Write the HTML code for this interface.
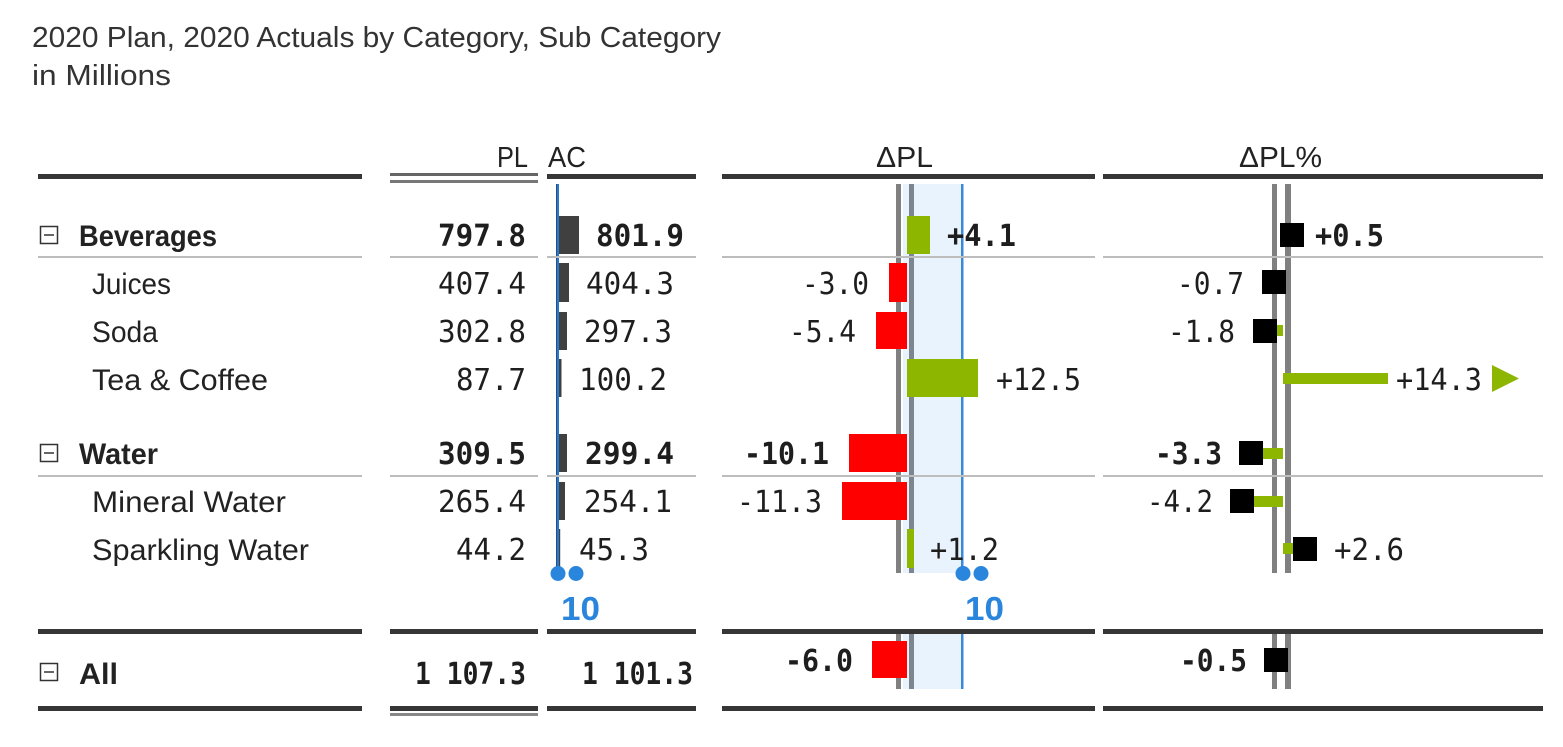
<!DOCTYPE html>
<html><head><meta charset="utf-8"><style>
html,body{margin:0;padding:0;background:#fff;}
svg{display:block;}
.t{font-family:"Liberation Sans",sans-serif;fill:#222;}
.m{font-family:"DejaVu Sans Mono","Liberation Mono",monospace;fill:#1e1e1e;}
.b{font-weight:bold;}
.blue{fill:#2a86dc;}
</style></head><body>
<svg width="1563" height="747" viewBox="0 0 1563 747" xmlns="http://www.w3.org/2000/svg">
<rect width="1563" height="747" fill="#fff"/>
<!-- Title -->
<text class="t" x="32" y="47" font-size="29" style="fill:#333" textLength="689" lengthAdjust="spacingAndGlyphs">2020 Plan, 2020 Actuals by Category, Sub Category</text>
<text class="t" x="32" y="85" font-size="29" style="fill:#333" textLength="139" lengthAdjust="spacingAndGlyphs">in Millions</text>

<!-- Headers -->
<text class="t" x="528" y="167" font-size="29" text-anchor="end" textLength="31" lengthAdjust="spacingAndGlyphs">PL</text>
<text class="t" x="548" y="167" font-size="29" textLength="38" lengthAdjust="spacingAndGlyphs">AC</text>
<text class="t" x="876" y="167" font-size="29" textLength="57" lengthAdjust="spacingAndGlyphs">ΔPL</text>
<text class="t" x="1239" y="167" font-size="29" textLength="83" lengthAdjust="spacingAndGlyphs">ΔPL%</text>

<!-- AC axis + bars -->
<rect x="556" y="184" width="3" height="389" fill="#2b78c8"/>
<rect x="556" y="184" width="1" height="389" fill="#23508a"/>
<g fill="#404040">
<rect x="559" y="216" width="20" height="38"/>
<rect x="559" y="263" width="10" height="39"/>
<rect x="559" y="312" width="8" height="38"/>
<rect x="559" y="359" width="2.5" height="38"/>
<rect x="559" y="434" width="8" height="38"/>
<rect x="559" y="482" width="6" height="38"/>
<rect x="559" y="529" width="1.2" height="38"/>
</g>
<circle cx="558" cy="573.5" r="7.5" fill="#2a86dc"/>
<circle cx="576" cy="573.5" r="7.5" fill="#2a86dc"/>
<text class="t b blue" x="561" y="620" font-size="33" style="fill:#2a86dc" textLength="39" lengthAdjust="spacingAndGlyphs">10</text>

<!-- ΔPL band, gray axis lines -->
<rect x="903" y="184" width="60" height="389" fill="#e9f3fd"/>
<rect x="903" y="629" width="60" height="60" fill="#e9f3fd"/>
<rect x="896" y="184" width="5" height="389" fill="#808080"/>
<rect x="896" y="629" width="5" height="60" fill="#808080"/>
<rect x="909" y="184" width="5" height="389" fill="#7d8590"/>
<rect x="909" y="629" width="5" height="60" fill="#7d8590"/>
<rect x="961" y="184" width="2.5" height="389" fill="#3b8ad8"/>
<rect x="961" y="629" width="2.5" height="60" fill="#3b8ad8"/>

<!-- ΔPL% gray axis lines -->
<rect x="1272" y="184" width="5" height="389" fill="#808080"/>
<rect x="1285" y="184" width="6" height="389" fill="#808080"/>
<rect x="1272" y="629" width="5" height="60" fill="#808080"/>
<rect x="1285" y="629" width="6" height="60" fill="#808080"/>

<!-- Header thick lines -->
<g fill="#363636">
<rect x="38" y="174" width="324" height="5"/>
<rect x="547" y="174" width="149" height="5"/>
<rect x="722" y="174" width="373" height="5"/>
<rect x="1103" y="174" width="440" height="5"/>
</g>
<rect x="390" y="173" width="148" height="3" fill="#666"/>
<rect x="390" y="180" width="148" height="3" fill="#777"/>

<!-- Separators -->
<g fill="#bdbdbd">
<rect x="38" y="256" width="324" height="2"/>
<rect x="390" y="256" width="148" height="2"/>
<rect x="547" y="256" width="149" height="2"/>
<rect x="722" y="256" width="373" height="2"/>
<rect x="1103" y="256" width="440" height="2"/>
<rect x="38" y="475" width="324" height="2"/>
<rect x="390" y="475" width="148" height="2"/>
<rect x="547" y="475" width="149" height="2"/>
<rect x="722" y="475" width="373" height="2"/>
<rect x="1103" y="475" width="440" height="2"/>
</g>

<!-- Mid & bottom thick lines -->
<g fill="#363636">
<rect x="38" y="629" width="324" height="5"/>
<rect x="390" y="629" width="148" height="5"/>
<rect x="547" y="629" width="149" height="5"/>
<rect x="722" y="629" width="373" height="5"/>
<rect x="1103" y="629" width="440" height="5"/>
<rect x="38" y="706" width="324" height="5"/>
<rect x="390" y="706" width="148" height="5"/>
<rect x="547" y="706" width="149" height="5"/>
<rect x="722" y="706" width="373" height="5"/>
<rect x="1103" y="706" width="440" height="5"/>
</g>
<rect x="390" y="713" width="148" height="3" fill="#888"/>

<!-- ΔPL bars -->
<g fill="#8db600">
<rect x="907" y="216" width="23" height="38"/>
<rect x="907" y="359" width="71" height="38"/>
<rect x="907" y="529" width="7" height="39"/>
</g>
<g fill="#ff0000">
<rect x="889" y="263" width="18" height="39"/>
<rect x="876" y="312" width="31" height="37"/>
<rect x="849" y="434" width="58" height="38"/>
<rect x="842" y="482" width="65" height="38"/>
<rect x="872" y="641" width="35" height="37"/>
</g>
<circle cx="963" cy="573.5" r="7.5" fill="#2a86dc"/>
<circle cx="981" cy="573.5" r="7.5" fill="#2a86dc"/>
<text class="t b blue" x="965" y="620" font-size="33" style="fill:#2a86dc" textLength="39" lengthAdjust="spacingAndGlyphs">10</text>

<!-- ΔPL% lollipops -->
<g fill="#8db600">
<rect x="1277" y="325" width="6" height="11"/>
<rect x="1283" y="373" width="105" height="11"/>
<rect x="1263" y="448" width="20" height="11"/>
<rect x="1254" y="496" width="29" height="11"/>
<rect x="1283" y="543" width="12" height="11"/>
<polygon points="1492,365 1519,378.5 1492,392"/>
</g>
<g fill="#000">
<rect x="1280" y="223" width="24" height="24"/>
<rect x="1262" y="270" width="24" height="24"/>
<rect x="1253" y="319" width="24" height="24"/>
<rect x="1239" y="441" width="24" height="24"/>
<rect x="1230" y="489" width="24" height="24"/>
<rect x="1293" y="537" width="24" height="24"/>
<rect x="1264" y="648" width="24" height="24"/>
</g>

<!-- Expand icons -->
<g fill="none" stroke="#333" stroke-width="1.5">
<rect x="40.5" y="226.5" width="17" height="17"/>
<line x1="44" y1="235" x2="54" y2="235"/>
<rect x="40.5" y="444.5" width="17" height="17"/>
<line x1="44" y1="453" x2="54" y2="453"/>
<rect x="40.5" y="663.5" width="17" height="17"/>
<line x1="44" y1="672" x2="54" y2="672"/>
</g>

<!-- Row labels -->
<text class="t b" x="79" y="246" font-size="30" textLength="138" lengthAdjust="spacingAndGlyphs">Beverages</text>
<text class="t" x="92" y="294" font-size="30" textLength="79" lengthAdjust="spacingAndGlyphs">Juices</text>
<text class="t" x="92" y="342" font-size="30" textLength="66" lengthAdjust="spacingAndGlyphs">Soda</text>
<text class="t" x="92" y="390" font-size="30" textLength="176" lengthAdjust="spacingAndGlyphs">Tea &amp; Coffee</text>
<text class="t b" x="79" y="464" font-size="30" textLength="79" lengthAdjust="spacingAndGlyphs">Water</text>
<text class="t" x="92" y="512" font-size="30" textLength="194" lengthAdjust="spacingAndGlyphs">Mineral Water</text>
<text class="t" x="92" y="560" font-size="30" textLength="217" lengthAdjust="spacingAndGlyphs">Sparkling Water</text>
<text class="t b" x="79" y="684" font-size="30" textLength="39" lengthAdjust="spacingAndGlyphs">All</text>

<!-- PL values -->
<g text-anchor="end">
<text class="m b" x="526" y="246" font-size="30" textLength="88" lengthAdjust="spacingAndGlyphs">797.8</text>
<text class="m" x="526" y="294" font-size="30" textLength="88" lengthAdjust="spacingAndGlyphs">407.4</text>
<text class="m" x="526" y="342" font-size="30" textLength="88" lengthAdjust="spacingAndGlyphs">302.8</text>
<text class="m" x="526" y="390" font-size="30" textLength="70" lengthAdjust="spacingAndGlyphs">87.7</text>
<text class="m b" x="526" y="464" font-size="30" textLength="88" lengthAdjust="spacingAndGlyphs">309.5</text>
<text class="m" x="526" y="512" font-size="30" textLength="88" lengthAdjust="spacingAndGlyphs">265.4</text>
<text class="m" x="526" y="560" font-size="30" textLength="70" lengthAdjust="spacingAndGlyphs">44.2</text>
<text class="m b" x="526" y="684" font-size="30" textLength="111" lengthAdjust="spacingAndGlyphs">1 107.3</text>
</g>

<!-- AC values -->
<text class="m b" x="596" y="246" font-size="30" textLength="88" lengthAdjust="spacingAndGlyphs">801.9</text>
<text class="m" x="586" y="294" font-size="30" textLength="88" lengthAdjust="spacingAndGlyphs">404.3</text>
<text class="m" x="584" y="342" font-size="30" textLength="88" lengthAdjust="spacingAndGlyphs">297.3</text>
<text class="m" x="579" y="390" font-size="30" textLength="88" lengthAdjust="spacingAndGlyphs">100.2</text>
<text class="m b" x="585" y="464" font-size="30" textLength="89" lengthAdjust="spacingAndGlyphs">299.4</text>
<text class="m" x="584" y="512" font-size="30" textLength="88" lengthAdjust="spacingAndGlyphs">254.1</text>
<text class="m" x="579" y="560" font-size="30" textLength="70" lengthAdjust="spacingAndGlyphs">45.3</text>
<text class="m b" x="582" y="684" font-size="30" textLength="111" lengthAdjust="spacingAndGlyphs">1 101.3</text>

<!-- ΔPL values -->
<text class="m b" x="947" y="246" font-size="30" textLength="69" lengthAdjust="spacingAndGlyphs">+4.1</text>
<text class="m" x="869" y="294" font-size="30" text-anchor="end" textLength="67" lengthAdjust="spacingAndGlyphs">-3.0</text>
<text class="m" x="856" y="342" font-size="30" text-anchor="end" textLength="67" lengthAdjust="spacingAndGlyphs">-5.4</text>
<text class="m" x="996" y="390" font-size="30" textLength="85" lengthAdjust="spacingAndGlyphs">+12.5</text>
<text class="m b" x="829" y="464" font-size="30" text-anchor="end" textLength="85" lengthAdjust="spacingAndGlyphs">-10.1</text>
<text class="m" x="822" y="512" font-size="30" text-anchor="end" textLength="85" lengthAdjust="spacingAndGlyphs">-11.3</text>
<text class="m" x="930" y="560" font-size="30" textLength="69" lengthAdjust="spacingAndGlyphs">+1.2</text>
<text class="m b" x="853" y="671" font-size="30" text-anchor="end" textLength="68" lengthAdjust="spacingAndGlyphs">-6.0</text>

<!-- ΔPL% values -->
<text class="m b" x="1315" y="246" font-size="30" textLength="69" lengthAdjust="spacingAndGlyphs">+0.5</text>
<text class="m" x="1244" y="294" font-size="30" text-anchor="end" textLength="67" lengthAdjust="spacingAndGlyphs">-0.7</text>
<text class="m" x="1235" y="342" font-size="30" text-anchor="end" textLength="67" lengthAdjust="spacingAndGlyphs">-1.8</text>
<text class="m" x="1396" y="390" font-size="30" textLength="86" lengthAdjust="spacingAndGlyphs">+14.3</text>
<text class="m b" x="1222" y="464" font-size="30" text-anchor="end" textLength="67" lengthAdjust="spacingAndGlyphs">-3.3</text>
<text class="m" x="1213" y="512" font-size="30" text-anchor="end" textLength="66" lengthAdjust="spacingAndGlyphs">-4.2</text>
<text class="m" x="1334" y="560" font-size="30" textLength="70" lengthAdjust="spacingAndGlyphs">+2.6</text>
<text class="m b" x="1247" y="671" font-size="30" text-anchor="end" textLength="67" lengthAdjust="spacingAndGlyphs">-0.5</text>
</svg>
</body></html>
